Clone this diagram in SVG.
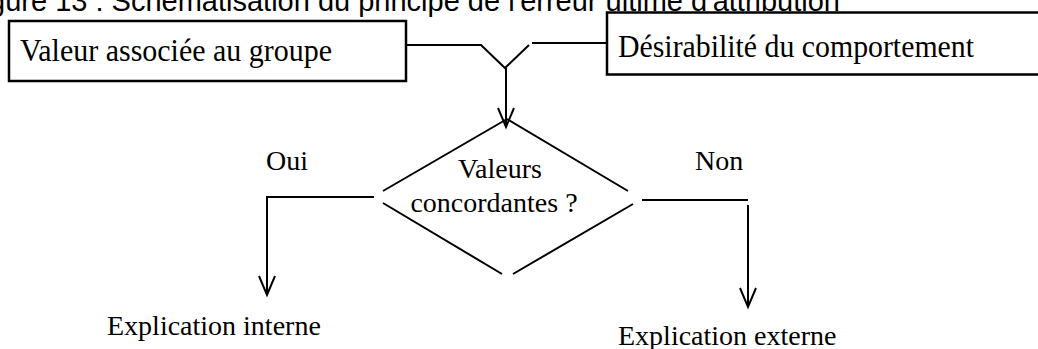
<svg xmlns="http://www.w3.org/2000/svg" width="1038" height="349" viewBox="0 0 1038 349">
<style>
.box{fill:#fff;stroke:#000;stroke-width:2.5}
.ln{fill:none;stroke:#000;stroke-width:2}
.t{font-family:"Liberation Serif","Times New Roman",serif;fill:#000}
.title{font-family:"Liberation Sans",Arial,sans-serif;font-size:29px;fill:#000}
</style>
<defs>
<marker id="arr" markerUnits="userSpaceOnUse" markerWidth="24" markerHeight="20" viewBox="-21 -10 24 20" refX="0" refY="0" orient="auto">
<path d="M-19,-8 L0,0 L-19,8" fill="none" stroke="#000" stroke-width="2"/>
</marker>
</defs>
<text class="title" x="840" y="11" text-anchor="end">Figure 13 : Schématisation du principe de l'erreur ultime d'attribution</text>
<g id="valeur">
<rect class="box" x="9" y="21" width="397" height="60"/>
<text class="t" x="20" y="61" font-size="32" textLength="312" lengthAdjust="spacingAndGlyphs">Valeur associée au groupe</text>
</g>
<g id="desirabilite">
<rect class="box" x="607" y="12.5" width="440" height="62"/>
<text class="t" x="618" y="57" font-size="32" textLength="356" lengthAdjust="spacingAndGlyphs">Désirabilité du comportement</text>
</g>
<g id="decision">
<path class="ln" d="M507,119 L383,191 M383,203 L502,274 M513,274 L633,204 M507,119 L628,191"/>
<text class="t" x="500" y="178" font-size="28" text-anchor="middle">Valeurs</text>
<text class="t" x="494" y="212" font-size="28" text-anchor="middle">concordantes ?</text>
</g>
<g id="interne">
<text class="t" x="107" y="335" font-size="28">Explication interne</text>
</g>
<g id="externe">
<text class="t" x="618" y="345" font-size="28">Explication externe</text>
</g>
<g id="connectors">
<path class="ln" d="M406,45 L481,45 L505,68 L529,45"/>
<path class="ln" d="M532,43 L607,43"/>
<path class="ln" d="M506,68 L506,127" marker-end="url(#arr)"/>
<path class="ln" d="M374,197 L267,197 L267,295" marker-end="url(#arr)"/>
<path class="ln" d="M642,200 L748,200"/>
<path class="ln" d="M748,205 L748,307" marker-end="url(#arr)"/>
<text class="t" x="266" y="170" font-size="28">Oui</text>
<text class="t" x="695" y="170" font-size="28">Non</text>
</g>
</svg>
